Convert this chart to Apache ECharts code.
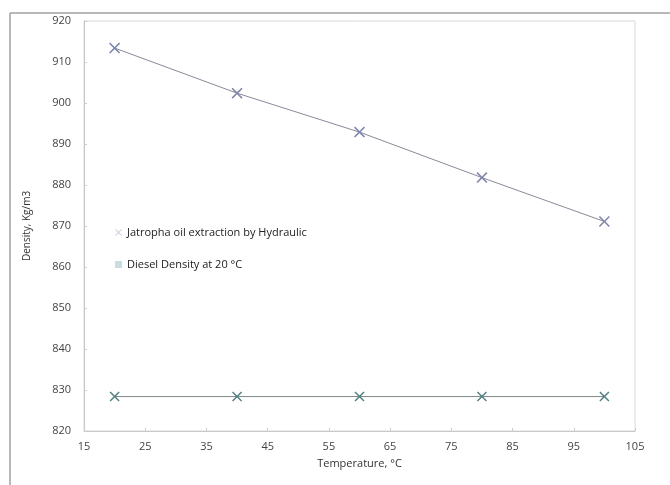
<!DOCTYPE html>
<html>
<head>
<meta charset="utf-8">
<script src="https://cdn.jsdelivr.net/npm/echarts@6/dist/echarts.min.js"></script>
<style>html,body{margin:0;padding:0;background:#fff;}#c{width:670px;height:485px;}</style>
</head>
<body>
<div id="c"></div>
<script>
var temperatures = [20, 40, 60, 80, 100];
var jatrophaDensity = [913.4, 902.4, 892.9, 881.8, 871.1];
var dieselDensity = [828.4, 828.4, 828.4, 828.4, 828.4];
var seriesNames = ['Jatropha oil extraction by Hydraulic', 'Diesel Density at 20 \u00b0C'];
var xTitle = 'Temperature, \u00b0C';
var yTitle = 'Density, Kg/m3';

var xMark = 'path://M0,1 L1,0 L5,4 L9,0 L10,1 L6,5 L10,9 L9,10 L5,6 L1,10 L0,9 L4,5 Z';
function pairs(xs, ys) { return xs.map(function (x, i) { return [x, ys[i]]; }); }

var chart = echarts.init(document.getElementById('c'));
var font = 'Open Sans';
chart.setOption({
  backgroundColor: '#fff',
  animation: false,
  graphic: [
    { type: 'line', shape: { x1: 10, y1: 13, x2: 670, y2: 13 }, style: { stroke: '#a0a0a0', lineWidth: 1.5 } },
    { type: 'line', shape: { x1: 10, y1: 13, x2: 10, y2: 485 }, style: { stroke: '#a0a0a0', lineWidth: 1.5 } }
  ],
  grid: { left: 84, right: 35, top: 21, bottom: 54, show: true, borderColor: '#d8d8d8', borderWidth: 1 },
  legend: {
    orient: 'vertical', left: 110, top: 222, itemGap: 21, itemWidth: 7, itemHeight: 7,
    textStyle: { fontFamily: font, fontSize: 11, color: '#222' },
    data: [
      { name: seriesNames[0], icon: xMark, itemStyle: { color: '#c8d0e0' } },
      { name: seriesNames[1], icon: 'rect', itemStyle: { color: '#c8dede' } }
    ]
  },
  xAxis: {
    type: 'value', min: 15, max: 105, interval: 10,
    name: xTitle, nameLocation: 'middle', nameGap: 27,
    nameTextStyle: { fontFamily: font, fontSize: 11, color: '#333' },
    axisLine: { lineStyle: { color: '#c8c8c8' } },
    axisTick: { show: true, inside: true, length: 3, lineStyle: { color: '#ccc' } },
    axisLabel: { fontFamily: font, fontSize: 11, color: '#444', margin: 10 },
    splitLine: { show: false }
  },
  yAxis: {
    type: 'value', min: 820, max: 920, interval: 10,
    name: yTitle, nameLocation: 'middle', nameGap: 52,
    nameTextStyle: { fontFamily: font, fontSize: 10, color: '#333' },
    axisLine: { show: true, lineStyle: { color: '#c8c8c8' } },
    axisTick: { show: true, inside: true, length: 3, lineStyle: { color: '#ccc' } },
    axisLabel: { fontFamily: font, fontSize: 11, color: '#444', margin: 13 },
    splitLine: { show: false }
  },
  series: [
    {
      name: seriesNames[0], type: 'line', data: pairs(temperatures, jatrophaDensity),
      symbol: xMark, symbolSize: 11,
      lineStyle: { color: '#8a8a9a', width: 1 },
      itemStyle: { color: '#7f86a8' }
    },
    {
      name: seriesNames[1], type: 'line', data: pairs(temperatures, dieselDensity),
      symbol: xMark, symbolSize: 10,
      lineStyle: { color: '#808888', width: 1 },
      itemStyle: { color: '#4f7f80' }
    }
  ]
});
</script>
</body>
</html>
